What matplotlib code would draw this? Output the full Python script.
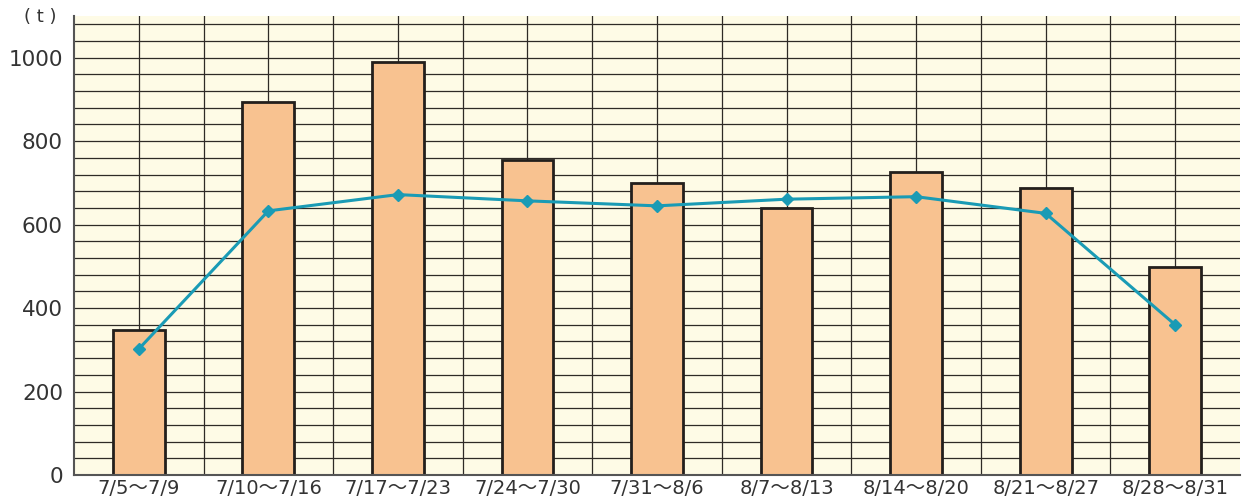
import matplotlib
matplotlib.use("Agg")
import matplotlib.pyplot as plt
import numpy as np

plt.rcParams['font.family'] = ['DejaVu Sans', 'Noto Sans CJK JP']

# weekly periods
periods = ['7/5〜7/9', '7/10〜7/16', '7/17〜7/23', '7/24〜7/30', '7/31〜8/6',
           '8/7〜8/13', '8/14〜8/20', '8/21〜8/27', '8/28〜8/31']
# bar values (t)
bar_vals = [347, 895, 990, 755, 700, 640, 725, 688, 498]
# line values (t)
line_vals = [302, 633, 672, 657, 645, 661, 667, 627, 360]
y_ticks = [0, 200, 400, 600, 800, 1000]

bg = '#fefbe6'
bar_col = '#f8c290'
line_col = '#1a9bb5'
grid_col = '#2e2a26'

fig = plt.figure(figsize=(12.48, 5.03), dpi=100)
ax = fig.add_axes([74/1248, 28/503, (1240-74)/1248, (475-16)/503])
ax.set_facecolor(bg)

x = np.arange(len(periods))
ax.set_xlim(-0.5, len(periods) - 0.5)
ax.set_ylim(0, 1100)

# grid: horizontal every 40, vertical every half category
for yv in np.arange(40, 1100, 40):
    ax.axhline(yv, color=grid_col, lw=0.9, zorder=1)
for xv in np.arange(0, len(periods) - 0.5, 0.5):
    ax.axvline(xv, color=grid_col, lw=0.9, zorder=1)

ax.bar(x, bar_vals, width=0.4, color=bar_col, edgecolor='#231f1c', lw=2, zorder=2)
ax.plot(x, line_vals, color=line_col, lw=2.2, marker='D', ms=6.5, zorder=3)

ax.set_xticks(x)
ax.set_xticklabels(periods, fontsize=14, color='#333333')
ax.set_yticks(y_ticks)
ax.set_yticklabels([str(v) for v in y_ticks], fontsize=15.5, color='#333333')
ax.tick_params(length=0, pad=8)
ax.tick_params(axis='x', pad=3)

for s in ['top', 'right']:
    ax.spines[s].set_visible(False)
ax.spines['left'].set_color('#555555')
ax.spines['bottom'].set_color('#555555')
ax.spines['left'].set_linewidth(1.5)
ax.spines['bottom'].set_linewidth(1.5)

fig.text(40/1248, 1 - 17/503, '( t )', fontsize=13, color='#333333', ha='center', va='center')

fig.savefig('out.png', dpi=100, facecolor='white')
